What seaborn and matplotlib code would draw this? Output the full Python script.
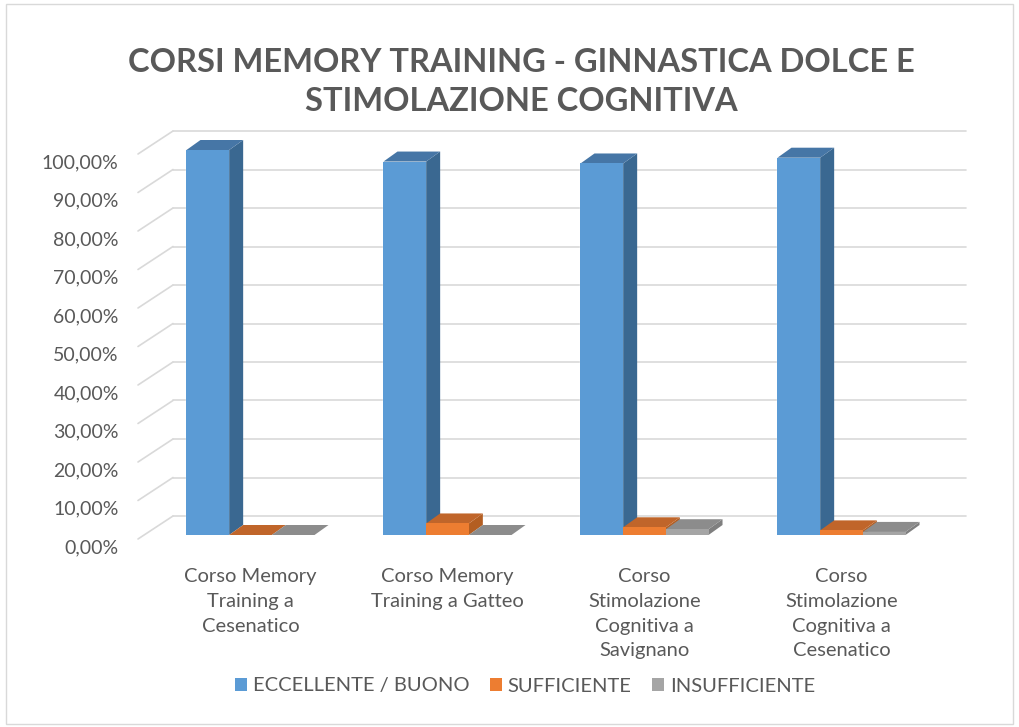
import numpy as np
import pandas as pd
import matplotlib
matplotlib.use("Agg")
import matplotlib.pyplot as plt
import seaborn as sns
from matplotlib.patches import Polygon, Rectangle
from matplotlib.ticker import FuncFormatter
from matplotlib.transforms import ScaledTranslation

# dati
corsi = [
    "Corso Memory\nTraining a\nCesenatico",
    "Corso Memory\nTraining a Gatteo",
    "Corso\nStimolazione\nCognitiva a\nSavignano",
    "Corso\nStimolazione\nCognitiva a\nCesenatico",
]
giudizi = ["ECCELLENTE / BUONO", "SUFFICIENTE", "INSUFFICIENTE"]
eccellente = [1.00, 0.97, 0.965, 0.98]
sufficiente = [0.0, 0.03, 0.02, 0.012]
insufficiente = [0.0, 0.0, 0.015, 0.008]
y_ticks = np.arange(0, 1.01, 0.1)

colori = ["#5B9BD5", "#ED7D31", "#A5A5A5"]
lati = ["#3A6891", "#B35E22", "#7F7F7F"]
cime = ["#4676A6", "#C0652A", "#8C8C8C"]

df = pd.DataFrame({
    "corso": corsi * 3,
    "giudizio": np.repeat(giudizi, len(corsi)),
    "valore": eccellente + sufficiente + insufficiente,
})

sns.set_style("white")
plt.rcParams["font.family"] = ["Lato", "DejaVu Sans"]
testo = "#595959"

fig = plt.figure(figsize=(10.19, 7.27), dpi=100)
ax = fig.add_axes([152 / 1019, 1 - 535 / 727, (940 - 152) / 1019, (535 - 150) / 727])

sns.barplot(data=df, x="corso", y="valore", hue="giudizio", palette=colori,
            width=0.65, saturation=1, ax=ax, legend=False, zorder=3)
ax.set_ylim(0, 1)
ax.set_xlim(-0.5, len(corsi) - 0.5)
ax.set_yticks(y_ticks)
ax.yaxis.set_major_formatter(FuncFormatter(lambda v, p: f"{v * 100:.2f}%".replace(".", ",")))
ax.tick_params(axis="y", labelsize=14, colors=testo, length=0, pad=24)
ax.tick_params(axis="x", labelsize=14.5, colors=testo, length=0, pad=24)
giu = ScaledTranslation(0, -8 / 72, fig.dpi_scale_trans)
for lab in ax.get_yticklabels():
    lab.set_transform(lab.get_transform() + giu)
for lab in ax.get_xticklabels():
    lab.set_linespacing(1.55)
    lab.set_verticalalignment("top")
ax.set_xlabel("")
ax.set_ylabel("")
for s in ax.spines.values():
    s.set_visible(False)
ax.patch.set_alpha(0)

fig.canvas.draw()

# parete di fondo: griglia spostata indietro
gdx, gdy = 21, 19
for t in y_ticks:
    x0, y0 = ax.transData.transform((-0.5, t))
    x1, _ = ax.transData.transform((len(corsi) - 0.5, t))
    fig.add_artist(plt.Line2D([x0 + gdx, x1 + gdx + 5], [y0 + gdy, y0 + gdy],
                              transform=None, color="#D9D9D9", lw=1.2, zorder=0))
    fig.add_artist(plt.Line2D([x0 - 14, x0 + gdx], [y0 - 4, y0 + gdy],
                              transform=None, color="#D9D9D9", lw=1.2, zorder=0))

# effetto 3D sulle barre
dx, dy = 14, 10
z = 4
for i in range(len(corsi)):
    for k, cont in enumerate(ax.containers):
        r = cont.patches[i]
        (a0, b0) = ax.transData.transform((r.get_x(), r.get_y()))
        (a1, b1) = ax.transData.transform((r.get_x() + r.get_width(), r.get_y() + r.get_height()))
        side = [(a1, b0), (a1 + dx, b0 + dy), (a1 + dx, b1 + dy), (a1, b1)]
        top = [(a0, b1), (a1, b1), (a1 + dx, b1 + dy), (a0 + dx, b1 + dy)]
        fig.add_artist(Polygon(side, closed=True, transform=None, fc=lati[k], ec="none", zorder=z))
        fig.add_artist(Polygon(top, closed=True, transform=None, fc=cime[k], ec="none", zorder=z))
        fig.add_artist(Rectangle((a0, b0), a1 - a0, b1 - b0, transform=None, fc=colori[k],
                                 ec="none", zorder=z + 0.5))
        z += 1

fig.suptitle("CORSI MEMORY TRAINING - GINNASTICA DOLCE E\nSTIMOLAZIONE COGNITIVA",
             x=0.512, y=0.934, fontsize=23.5, fontweight="bold", color=testo, linespacing=1.4)

maniglie = [Rectangle((0, 0), 1, 1, fc=c, ec="none") for c in colori]
fig.legend(maniglie, giudizi, loc="center", bbox_to_anchor=(0.515, 1 - 686 / 727), ncol=3,
           frameon=False, fontsize=14.5, labelcolor=testo, handlelength=0.6, handleheight=0.6,
           handletextpad=0.3, columnspacing=1.0)

fig.add_artist(Rectangle((0.006, 0.004), 0.988, 0.99, transform=fig.transFigure,
                         fill=False, ec="#D9D9D9", lw=1))

fig.savefig("out.png", dpi=100)
